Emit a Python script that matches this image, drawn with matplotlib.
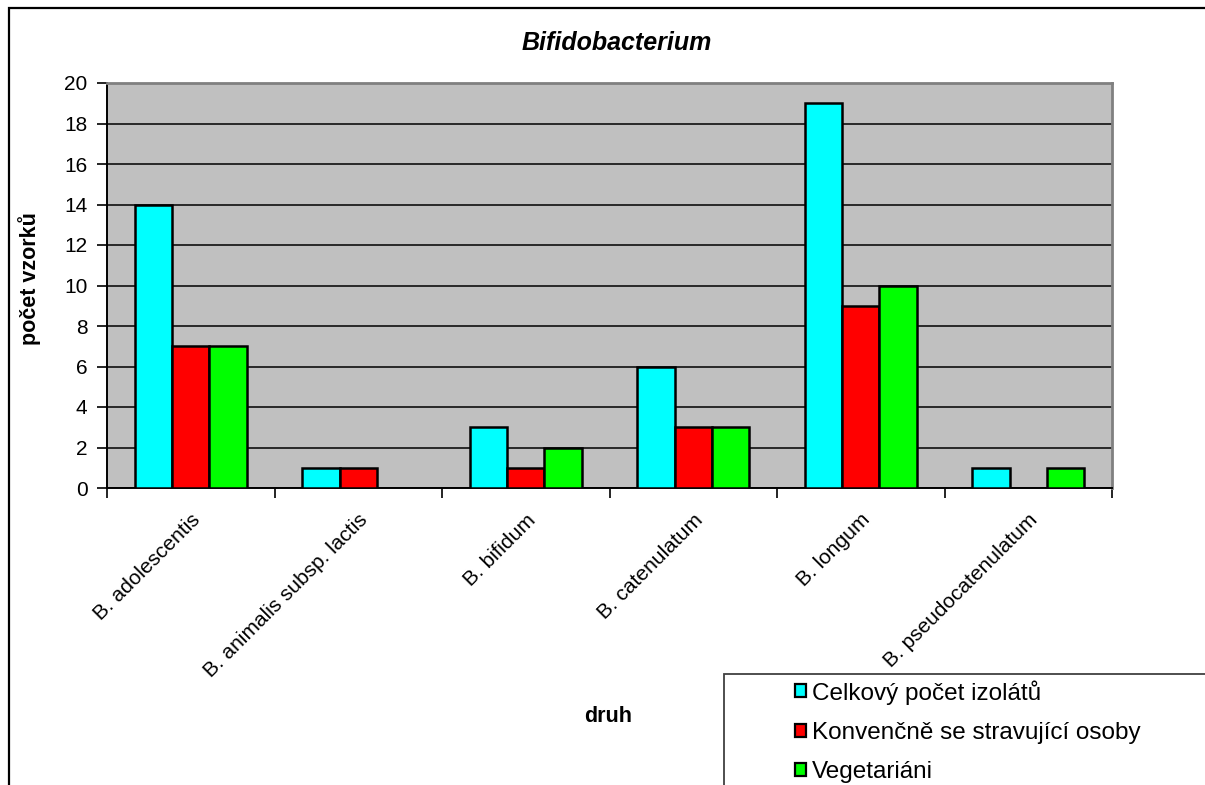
import matplotlib.pyplot as plt
from matplotlib.patches import Rectangle, Patch
import numpy as np

plt.rcParams['font.family'] = ['Liberation Sans', 'DejaVu Sans']

druhy = ['B. adolescentis', 'B. animalis subsp. lactis', 'B. bifidum',
         'B. catenulatum', 'B. longum', 'B. pseudocatenulatum']
celkem = [14, 1, 3, 6, 19, 1]
konvencni = [7, 1, 1, 3, 9, 0]
vegetariani = [7, 0, 2, 3, 10, 1]

serie = ['Celkový počet izolátů', 'Konvenčně se stravující osoby', 'Vegetariáni']
barvy = ['#00FFFF', '#FF0000', '#00FF00']

W, H = 1205, 785
fig = plt.figure(figsize=(W / 100, H / 100), dpi=100)

def fx(px):
    return px / W

def fy(py):
    return 1 - py / H

# outer chart frame (runs off the bottom/right edge)
fig.patches.append(Rectangle((fx(9), -0.2), 1.2, fy(8) + 0.2, transform=fig.transFigure,
                             fill=False, edgecolor='black', lw=1.6, zorder=0))

ax = fig.add_axes([fx(107), fy(488), fx(1112) - fx(107), fy(83) - fy(488)])
ax.set_facecolor('#C0C0C0')

x = np.arange(len(druhy))
w = 0.222
for k, (vals, c) in enumerate(zip([celkem, konvencni, vegetariani], barvy)):
    v = np.array(vals, dtype=float)
    m = v > 0
    ax.bar(x[m] + (k - 1) * w, v[m], width=w, color=c, edgecolor='black', lw=1.8, zorder=3)

ax.set_xlim(-0.5, len(druhy) - 0.5)
ax.set_ylim(0, 20)
ax.set_yticks(np.arange(0, 21, 2))
ax.yaxis.grid(True, color='black', lw=1.1, zorder=1)
ax.set_axisbelow(True)

ax.set_xticks(x)
ax.set_xticklabels(druhy, rotation=45, ha='right', rotation_mode='anchor', fontsize=15)
ax.set_xticks(np.arange(-0.5, len(druhy), 1), minor=True)
ax.tick_params(axis='x', which='major', length=0, pad=16)
ax.tick_params(axis='x', which='minor', length=7, width=1.2, direction='out')
ax.tick_params(axis='y', length=7, width=1.2, direction='out', labelsize=15, pad=7)

for s in ['left', 'bottom']:
    ax.spines[s].set_color('black')
    ax.spines[s].set_linewidth(1.4)
for s in ['top', 'right']:
    ax.spines[s].set_color('#808080')
    ax.spines[s].set_linewidth(2)

fig.text(fx(617), fy(43), 'Bifidobacterium', ha='center', va='center',
         fontsize=18, fontweight='bold', fontstyle='italic')
fig.text(fx(30), fy(279), 'počet vzorků', rotation=90, ha='center', va='center',
         fontsize=15.5, fontweight='bold')
fig.text(fx(608), fy(717), 'druh', ha='center', va='center',
         fontsize=15.5, fontweight='bold')

# legend frame, also cut by the edge
fig.patches.append(Rectangle((fx(724), -0.2), 1.0, fy(674) + 0.2, transform=fig.transFigure,
                             fill=False, edgecolor='#404040', lw=1.3, zorder=0))
handles = [Patch(facecolor=c, edgecolor='black', lw=1.6) for c in barvy]
fig.legend(handles, serie, loc='upper left', bbox_to_anchor=(fx(795), fy(680)),
           frameon=False, fontsize=17.5, handlelength=0.45, handleheight=0.45,
           handletextpad=0.25, labelspacing=0.71, borderpad=0, borderaxespad=0)

fig.savefig('out.png', dpi=100)
